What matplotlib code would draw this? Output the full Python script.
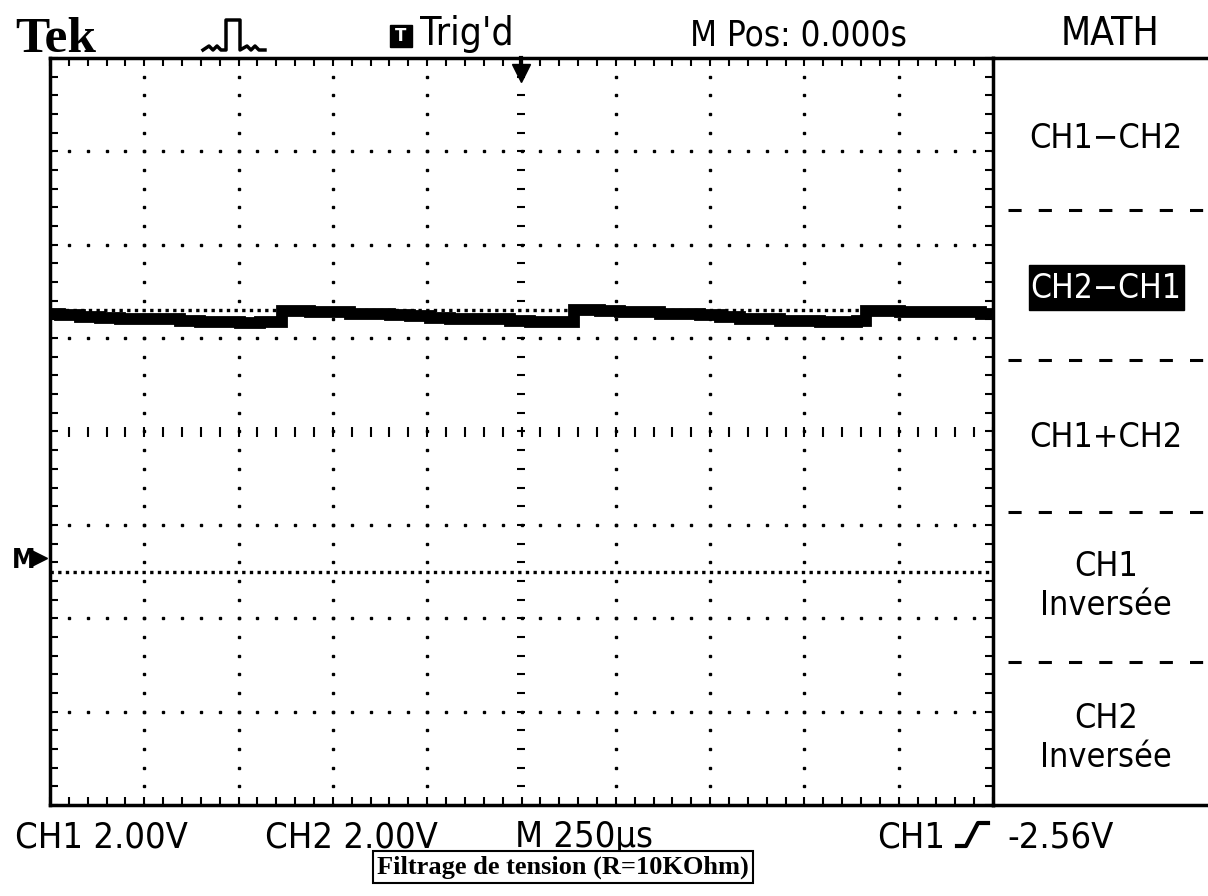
import matplotlib
matplotlib.use("Agg")
import matplotlib.pyplot as plt
import numpy as np
from matplotlib.lines import Line2D
from matplotlib.patches import Rectangle

W, H = 1208, 896

# scope settings shown on screen
volts_per_div = 2.00
us_per_div = 250
math_ref_div = -1.5        # "M>" ground marker of the math trace
dotted_level_div = 1.3     # flat dotted trace just over the waveform

# CH2-CH1 math trace (time in us, volts above M ground)
t_us = [-1250, -1197, -1144, -1091, -1038, -985, -932, -879, -826, -773, -720, -667, -640,
        -630, -587, -534, -481, -428, -375, -322, -269, -216, -163, -110, -57, -4, 49, 102, 134,
        144, 182, 235, 288, 341, 394, 447, 500, 553, 606, 659, 712, 765, 818, 871, 908,
        919, 977, 1030, 1083, 1136, 1189, 1250]
v_math = [5.52, 5.50, 5.46, 5.44, 5.42, 5.40, 5.40, 5.37, 5.35, 5.35, 5.33, 5.35, 5.35,
          5.59, 5.59, 5.57, 5.55, 5.52, 5.52, 5.50, 5.48, 5.44, 5.42, 5.40, 5.40, 5.37, 5.35, 5.35, 5.35,
          5.61, 5.61, 5.59, 5.57, 5.55, 5.52, 5.52, 5.50, 5.46, 5.42, 5.40, 5.37, 5.37, 5.35, 5.35, 5.37,
          5.59, 5.59, 5.57, 5.57, 5.55, 5.55, 5.52]

top_labels = ["Trig'd", "M Pos: 0.000s", "MATH"]
bottom_labels = ["CH1 2.00V", "CH2 2.00V", "M 250\u00b5s", "CH1", "-2.56V"]
bottom_x = [15, 265, 515, 877, 1007]
menu_items = ["CH1\u2212CH2", "CH2\u2212CH1", "CH1+CH2", "CH1\nInvers\u00e9e", "CH2\nInvers\u00e9e"]
menu_y = [138, 288, 437, 586, 738]
selected = 1
caption = "Filtrage de tension (R=10KOhm)"

LCD = dict(family="DejaVu Sans", stretch="condensed")


def fx(x):
    return x / W


def fy(y):
    return 1 - y / H


fig = plt.figure(figsize=(W / 100, H / 100), dpi=100)
fig.patch.set_facecolor("white")

# graticule
ax = fig.add_axes([fx(50), fy(805), (993 - 50) / W, (805 - 58) / H])
ax.set_xlim(-5, 5)
ax.set_ylim(-4, 4)
for s in ax.spines.values():
    s.set_linewidth(2.5)
ax.set_xticks([])
ax.set_yticks([])
ax.set_xticks(np.arange(-5, 5.01, 0.2), minor=True)
ax.set_yticks(np.arange(-4, 4.01, 0.2), minor=True)
ax.tick_params(which="minor", direction="in", length=6, width=1.5,
               top=True, right=True, labelbottom=False, labelleft=False)

xx = np.arange(-5, 5.01, 0.2)
yy = np.arange(-4, 4.01, 0.2)
for xm in range(-4, 5):
    if xm == 0:
        ax.plot(np.zeros_like(yy), yy, ls="none", marker="_", ms=6, mew=1.5, color="black")
    else:
        ax.plot(np.full_like(yy, xm), yy, ls="none", marker="s", ms=1.6, color="black")
for ym in range(-3, 4):
    if ym == 0:
        ax.plot(xx, np.zeros_like(xx), ls="none", marker="|", ms=7, mew=1.5, color="black")
    else:
        ax.plot(xx, np.full_like(xx, ym), ls="none", marker="s", ms=1.6, color="black")

# flat dotted traces
for lvl in (dotted_level_div, math_ref_div):
    ax.axhline(lvl, color="black", lw=2.4, ls=(0, (1, 1.3)))

# math waveform
t = np.array(t_us) / us_per_div
v = math_ref_div + np.array(v_math) / volts_per_div
ax.plot(t, v, color="black", lw=8.5, drawstyle="steps-mid", solid_joinstyle="miter")

# trigger position arrow and M ground marker
ax.plot(0, 3.84, marker="v", ms=13, color="black", clip_on=False)
ax.plot([0, 0], [3.84, 4.0], color="black", lw=3, clip_on=False)
ax.plot(-5.12, -1.36, marker=">", ms=11, color="black", clip_on=False)
fig.text(fx(35), fy(561), "M", fontsize=19, fontweight="bold", va="center", ha="right", **LCD)

# top status line
fig.text(fx(15), fy(52), "Tek", fontsize=37, fontweight="bold", family="Liberation Serif",
         va="baseline", ha="left")
px = [203, 209, 213, 217, 221, 226, 226, 240, 240, 247, 251, 255, 259, 265]
py = [50, 46, 50, 46, 50, 50, 20, 20, 50, 46, 50, 46, 50, 50]
fig.add_artist(Line2D([fx(p) for p in px], [fy(p) for p in py], color="black", lw=2.5))
fig.add_artist(Rectangle((fx(390), fy(47)), 22 / W, 22 / H, color="black"))
fig.text(fx(401), fy(36), "T", fontsize=12, fontweight="bold", color="white",
         ha="center", va="center", family="DejaVu Sans")
fig.text(fx(420), fy(45), top_labels[0], fontsize=28, va="baseline", ha="left", **LCD)
fig.text(fx(690), fy(45), top_labels[1], fontsize=25, va="baseline", ha="left", **LCD)
fig.text(fx(1110), fy(45), top_labels[2], fontsize=28, va="baseline", ha="center", **LCD)

# side menu
fig.add_artist(Line2D([fx(993), 1], [fy(58), fy(58)], color="black", lw=2.5))
fig.add_artist(Line2D([fx(993), 1], [fy(805), fy(805)], color="black", lw=2.5))
for ysep in (210, 360, 512, 662):
    ln = Line2D([fx(1008), 1], [fy(ysep), fy(ysep)], color="black", lw=2.2)
    ln.set_dashes((4.3, 5.6))
    fig.add_artist(ln)
for i, (lab, yc) in enumerate(zip(menu_items, menu_y)):
    if i == selected:
        fig.add_artist(Rectangle((fx(1029), fy(310)), 155 / W, 45 / H, color="black"))
        fig.text(fx(1106), fy(yc), lab, fontsize=24, ha="center", va="center",
                 color="white", **LCD)
    else:
        fig.text(fx(1106), fy(yc), lab, fontsize=24.5, ha="center", va="center",
                 linespacing=1.2, **LCD)

# bottom status line
for lab, x0 in zip(bottom_labels, bottom_x):
    fig.text(fx(x0), fy(847), lab, fontsize=26, ha="left", va="baseline", **LCD)
# trigger slope symbol (rising edge)
fig.add_artist(Line2D([fx(957), fx(966), fx(978), fx(988)],
                      [fy(846), fy(846), fy(823), fy(823)], color="black", lw=3))

fig.text(fx(563), fy(867), caption, fontsize=19, fontweight="bold", family="Liberation Serif",
         ha="center", va="center",
         bbox=dict(boxstyle="square,pad=0.15", fc="white", ec="black", lw=1.5))

fig.savefig("out.png", dpi=100)
